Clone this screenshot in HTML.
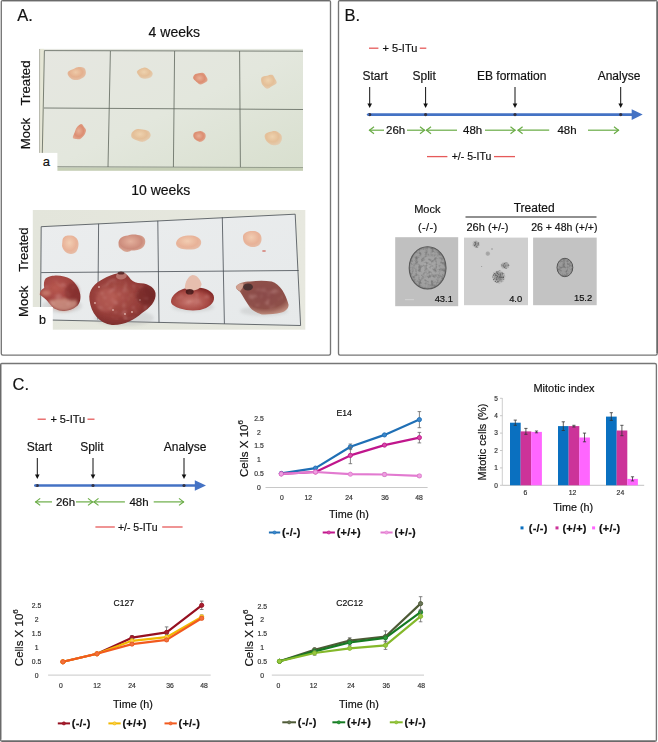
<!DOCTYPE html>
<html><head><meta charset="utf-8"><style>
html,body{margin:0;padding:0;background:#fff;}
body{width:658px;height:742px;overflow:hidden;}
svg{display:block;font-family:"Liberation Sans", sans-serif;filter:blur(0.35px);}
text{stroke-width:0.18px;}
</style></head><body>
<svg width="658" height="742" viewBox="0 0 658 742">
<path d="M2.8,0.6 L329.0,0.6 Q330.5,0.6 330.5,2.1 L330.5,353.6 Q330.5,355.1 329.0,355.1 L2.8,355.1 Q1.3,355.1 1.3,353.6 L1.3,2.1 Q1.3,0.6 2.8,0.6 Z" fill="none" stroke="#767676" stroke-width="1.35"/>
<path d="M340.0,0.6 L655.7,0.6 Q657.2,0.6 657.2,2.1 L657.2,353.6 Q657.2,355.1 655.7,355.1 L340.0,355.1 Q338.5,355.1 338.5,353.6 L338.5,2.1 Q338.5,0.6 340.0,0.6 Z" fill="none" stroke="#767676" stroke-width="1.35"/>
<path d="M2.1,363.5 L654.9,363.5 Q656.4,363.5 656.4,365.0 L656.4,739.7 Q656.4,741.2 654.9,741.2 L2.1,741.2 Q0.6,741.2 0.6,739.7 L0.6,365.0 Q0.6,363.5 2.1,363.5 Z" fill="none" stroke="#767676" stroke-width="1.35"/>
<line x1="657.2" y1="2" x2="657.2" y2="353" stroke="#6a6a6a" stroke-width="1.5" />
<line x1="2" y1="741.3" x2="655" y2="741.3" stroke="#6a6a6a" stroke-width="1.5" />
<line x1="0.6" y1="365" x2="0.6" y2="739.5" stroke="#6a6a6a" stroke-width="1.4" />
<line x1="3" y1="0.6" x2="329" y2="0.6" stroke="#6a6a6a" stroke-width="1.4" />
<line x1="340" y1="0.6" x2="655.5" y2="0.6" stroke="#6a6a6a" stroke-width="1.4" />
<text x="17.2" y="20.6" font-size="16.5" text-anchor="start" fill="#111" stroke="#111" font-weight="normal" >A.</text>
<text x="344.6" y="20.6" font-size="16.5" text-anchor="start" fill="#111" stroke="#111" font-weight="normal" >B.</text>
<text x="12.5" y="390.2" font-size="16.5" text-anchor="start" fill="#111" stroke="#111" font-weight="normal" >C.</text>
<line x1="369" y1="48.2" x2="378.4" y2="48.2" stroke="#e65a5a" stroke-width="1.3" />
<text x="382.6" y="51.900000000000006" font-size="11" text-anchor="start" fill="#111" stroke="#111" font-weight="normal" >+ 5-ITu</text>
<line x1="419.8" y1="48.2" x2="426.3" y2="48.2" stroke="#e65a5a" stroke-width="1.3" />
<text x="362.4" y="80.2" font-size="12" text-anchor="start" fill="#111" stroke="#111" font-weight="normal" >Start</text>
<text x="412.5" y="80.2" font-size="12" text-anchor="start" fill="#111" stroke="#111" font-weight="normal" >Split</text>
<text x="477" y="80.2" font-size="12" text-anchor="start" fill="#111" stroke="#111" font-weight="normal" >EB formation</text>
<text x="597.7" y="80.2" font-size="12" text-anchor="start" fill="#111" stroke="#111" font-weight="normal" >Analyse</text>
<line x1="369.7" y1="87" x2="369.7" y2="104" stroke="#111" stroke-width="1" />
<path d="M367.4,103.5 L372.0,103.5 L369.7,108 Z" fill="#111"/>
<line x1="425.6" y1="87" x2="425.6" y2="104" stroke="#111" stroke-width="1" />
<path d="M423.3,103.5 L427.90000000000003,103.5 L425.6,108 Z" fill="#111"/>
<line x1="515" y1="87" x2="515" y2="104" stroke="#111" stroke-width="1" />
<path d="M512.7,103.5 L517.3,103.5 L515,108 Z" fill="#111"/>
<line x1="620.7" y1="87" x2="620.7" y2="104" stroke="#111" stroke-width="1" />
<path d="M618.4000000000001,103.5 L623.0,103.5 L620.7,108 Z" fill="#111"/>
<line x1="368" y1="114.6" x2="632.7" y2="114.6" stroke="#4472c4" stroke-width="2.6" />
<path d="M631.7,109.3 L642.7,114.6 L631.7,119.89999999999999 Z" fill="#4472c4"/>
<circle cx="369.7" cy="114.6" r="1.6" fill="#334"/>
<circle cx="425.6" cy="114.6" r="1.6" fill="#334"/>
<circle cx="515" cy="114.6" r="1.6" fill="#334"/>
<circle cx="620.7" cy="114.6" r="1.6" fill="#334"/>
<circle cx="368" cy="114.6" r="1.2" fill="#4472c4"/>
<line x1="369" y1="130.2" x2="384" y2="130.2" stroke="#6aac46" stroke-width="1.2" />
<path d="M374,126.69999999999999 L369.5,130.2 L374,133.7" fill="none" stroke="#6aac46" stroke-width="1.2"/>
<text x="386" y="134.2" font-size="11.5" text-anchor="start" fill="#111" stroke="#111" font-weight="normal" >26h</text>
<line x1="407" y1="130.2" x2="425" y2="130.2" stroke="#6aac46" stroke-width="1.2" />
<path d="M420,126.69999999999999 L424.5,130.2 L420,133.7" fill="none" stroke="#6aac46" stroke-width="1.2"/>
<line x1="426" y1="130.2" x2="457" y2="130.2" stroke="#6aac46" stroke-width="1.2" />
<path d="M431,126.69999999999999 L426.5,130.2 L431,133.7" fill="none" stroke="#6aac46" stroke-width="1.2"/>
<text x="463" y="134.2" font-size="11.5" text-anchor="start" fill="#111" stroke="#111" font-weight="normal" >48h</text>
<line x1="485" y1="130.2" x2="515.5" y2="130.2" stroke="#6aac46" stroke-width="1.2" />
<path d="M510.5,126.69999999999999 L515.0,130.2 L510.5,133.7" fill="none" stroke="#6aac46" stroke-width="1.2"/>
<line x1="517.6" y1="130.2" x2="549.2" y2="130.2" stroke="#6aac46" stroke-width="1.2" />
<path d="M522.6,126.69999999999999 L518.1,130.2 L522.6,133.7" fill="none" stroke="#6aac46" stroke-width="1.2"/>
<text x="557.4" y="134.2" font-size="11.5" text-anchor="start" fill="#111" stroke="#111" font-weight="normal" >48h</text>
<line x1="588" y1="130.2" x2="619" y2="130.2" stroke="#6aac46" stroke-width="1.2" />
<path d="M614,126.69999999999999 L618.5,130.2 L614,133.7" fill="none" stroke="#6aac46" stroke-width="1.2"/>
<line x1="427" y1="156.6" x2="447.4" y2="156.6" stroke="#e65a5a" stroke-width="1.3" />
<text x="451.7" y="160.2" font-size="10.5" text-anchor="start" fill="#111" stroke="#111" font-weight="normal" >+/- 5-ITu</text>
<line x1="494" y1="156.6" x2="515" y2="156.6" stroke="#e65a5a" stroke-width="1.3" />
<line x1="37.6" y1="419.2" x2="45.8" y2="419.2" stroke="#e65a5a" stroke-width="1.3" />
<text x="50.4" y="422.9" font-size="11" text-anchor="start" fill="#111" stroke="#111" font-weight="normal" >+ 5-ITu</text>
<line x1="87.5" y1="419.2" x2="94.5" y2="419.2" stroke="#e65a5a" stroke-width="1.3" />
<text x="26.7" y="450.9" font-size="12" text-anchor="start" fill="#111" stroke="#111" font-weight="normal" >Start</text>
<text x="80.2" y="450.9" font-size="12" text-anchor="start" fill="#111" stroke="#111" font-weight="normal" >Split</text>
<text x="163.8" y="450.9" font-size="12" text-anchor="start" fill="#111" stroke="#111" font-weight="normal" >Analyse</text>
<line x1="37.3" y1="458" x2="37.3" y2="475" stroke="#111" stroke-width="1" />
<path d="M35.0,474.5 L39.599999999999994,474.5 L37.3,479 Z" fill="#111"/>
<line x1="93" y1="458" x2="93" y2="475" stroke="#111" stroke-width="1" />
<path d="M90.7,474.5 L95.3,474.5 L93,479 Z" fill="#111"/>
<line x1="184" y1="458" x2="184" y2="475" stroke="#111" stroke-width="1" />
<path d="M181.7,474.5 L186.3,474.5 L184,479 Z" fill="#111"/>
<line x1="35.2" y1="485.5" x2="195.8" y2="485.5" stroke="#4472c4" stroke-width="2.6" />
<path d="M194.8,480.2 L206,485.5 L194.8,490.8 Z" fill="#4472c4"/>
<circle cx="37.3" cy="485.5" r="1.6" fill="#334"/>
<circle cx="93" cy="485.5" r="1.6" fill="#334"/>
<circle cx="184" cy="485.5" r="1.6" fill="#334"/>
<circle cx="35.2" cy="485.5" r="1.2" fill="#4472c4"/>
<line x1="35.2" y1="501.9" x2="52" y2="501.9" stroke="#6aac46" stroke-width="1.2" />
<path d="M40.2,498.4 L35.7,501.9 L40.2,505.4" fill="none" stroke="#6aac46" stroke-width="1.2"/>
<text x="55.9" y="505.9" font-size="11.5" text-anchor="start" fill="#111" stroke="#111" font-weight="normal" >26h</text>
<line x1="76" y1="501.9" x2="93" y2="501.9" stroke="#6aac46" stroke-width="1.2" />
<path d="M88,498.4 L92.5,501.9 L88,505.4" fill="none" stroke="#6aac46" stroke-width="1.2"/>
<line x1="93.5" y1="501.9" x2="124.9" y2="501.9" stroke="#6aac46" stroke-width="1.2" />
<path d="M98.5,498.4 L94.0,501.9 L98.5,505.4" fill="none" stroke="#6aac46" stroke-width="1.2"/>
<text x="129.4" y="505.9" font-size="11.5" text-anchor="start" fill="#111" stroke="#111" font-weight="normal" >48h</text>
<line x1="153.7" y1="501.9" x2="184" y2="501.9" stroke="#6aac46" stroke-width="1.2" />
<path d="M179,498.4 L183.5,501.9 L179,505.4" fill="none" stroke="#6aac46" stroke-width="1.2"/>
<line x1="95.4" y1="527" x2="114.8" y2="527" stroke="#e65a5a" stroke-width="1.3" />
<text x="117.9" y="530.6" font-size="10.5" text-anchor="start" fill="#111" stroke="#111" font-weight="normal" >+/- 5-ITu</text>
<line x1="162.2" y1="527" x2="182.6" y2="527" stroke="#e65a5a" stroke-width="1.3" />
<text x="427.3" y="212.9" font-size="11" text-anchor="middle" fill="#111" stroke="#111" font-weight="normal" >Mock</text>
<text x="534.2" y="212.4" font-size="12" text-anchor="middle" fill="#111" stroke="#111" font-weight="normal" >Treated</text>
<line x1="465.5" y1="217" x2="596.5" y2="217" stroke="#222" stroke-width="1.1" />
<text x="427.8" y="231.2" font-size="11" text-anchor="middle" fill="#111" stroke="#111" font-weight="normal" letter-spacing="0.4">(-/-)</text>
<text x="466.5" y="230.7" font-size="11" text-anchor="start" fill="#111" stroke="#111" font-weight="normal" >26h (+/-)</text>
<text x="531.2" y="230.7" font-size="10.5" text-anchor="start" fill="#111" stroke="#111" font-weight="normal" >26 + 48h (+/+)</text>
<defs>
<filter id="blur1" x="-20%" y="-20%" width="140%" height="140%"><feGaussianBlur stdDeviation="0.6"/></filter>
<filter id="blur2" x="-20%" y="-20%" width="140%" height="140%"><feGaussianBlur stdDeviation="1.2"/></filter>
<filter id="blur3" x="-30%" y="-30%" width="160%" height="160%"><feGaussianBlur stdDeviation="2"/></filter>
<radialGradient id="sph1" cx="50%" cy="50%" r="50%"><stop offset="0" stop-color="#a8a8a8"/><stop offset="0.85" stop-color="#9a9a9a"/><stop offset="1" stop-color="#555"/></radialGradient>
</defs>
<defs>
<filter id="speck" x="0" y="0" width="100%" height="100%">
 <feTurbulence type="fractalNoise" baseFrequency="0.32" numOctaves="2" seed="3" result="n"/>
 <feColorMatrix in="n" type="matrix" values="0 0 0 0 0  0 0 0 0 0  0 0 0 0 0  -2.0 0 0 0 1.15" result="a"/>
 <feComposite in="a" in2="SourceGraphic" operator="in" result="c"/>
 <feGaussianBlur in="c" stdDeviation="0.6"/>
</filter>
<filter id="speck2" x="0" y="0" width="100%" height="100%">
 <feTurbulence type="fractalNoise" baseFrequency="0.6" numOctaves="2" seed="7" result="n"/>
 <feColorMatrix in="n" type="matrix" values="0 0 0 0 0  0 0 0 0 0  0 0 0 0 0  -3 0 0 0 1.7" result="a"/>
 <feComposite in="a" in2="SourceGraphic" operator="in" result="c"/>
 <feGaussianBlur in="c" stdDeviation="0.4"/>
</filter>
<radialGradient id="sphA" cx="50%" cy="50%" r="50%"><stop offset="0" stop-color="#a9a9a9"/><stop offset="0.88" stop-color="#9e9e9e"/><stop offset="1" stop-color="#8a8a8a"/></radialGradient>
</defs>
<rect x="395.2" y="237.2" width="63" height="69" fill="#c0c0c0" />
<ellipse cx="427.6" cy="267.9" rx="18.6" ry="21.3" fill="url(#sphA)"/>
<ellipse cx="427.6" cy="267.9" rx="18.2" ry="20.9" fill="#555" filter="url(#speck)" opacity="0.3"/>
<ellipse cx="427.6" cy="267.9" rx="18.4" ry="21.1" fill="none" stroke="#5a5a5a" stroke-width="1.1" filter="url(#blur1)"/>
<line x1="405" y1="299.7" x2="414" y2="299.7" stroke="#d8d8d8" stroke-width="0.8"/>
<rect x="464" y="237.6" width="64" height="67.6" fill="#cfcfcf" />
<defs><radialGradient id="clu"><stop offset="0" stop-color="#8c8c8c"/><stop offset="0.6" stop-color="#9c9c9c"/><stop offset="1" stop-color="#cfcfcf" stop-opacity="0"/></radialGradient></defs>
<g><circle cx="498.7" cy="276.8" r="7.5" fill="url(#clu)"/><ellipse cx="504.9" cy="265.5" rx="5.2" ry="4.2" fill="url(#clu)" opacity="0.8"/><ellipse cx="476" cy="244.3" rx="4.2" ry="4.2" fill="url(#clu)" opacity="0.8"/><ellipse cx="487.8" cy="253.6" rx="3" ry="3" fill="url(#clu)" opacity="0.7"/><circle cx="498.7" cy="276.8" r="6.5" fill="#555" filter="url(#speck2)" opacity="0.45"/><ellipse cx="504.9" cy="265.5" rx="4.6" ry="3.6" fill="#555" filter="url(#speck2)" opacity="0.4"/><ellipse cx="476" cy="244.3" rx="3.6" ry="3.6" fill="#555" filter="url(#speck2)" opacity="0.4"/><circle cx="492" cy="249" r="0.7" fill="#888"/><circle cx="481.6" cy="266.5" r="0.6" fill="#999"/></g>
<rect x="533.1" y="237.6" width="63.6" height="67.6" fill="#c3c3c3" />
<ellipse cx="564.9" cy="267.5" rx="8" ry="9.3" fill="#9a9a9a"/>
<ellipse cx="564.9" cy="267.5" rx="7.8" ry="9.1" fill="#555" filter="url(#speck)" opacity="0.35"/>
<ellipse cx="564.9" cy="267.5" rx="7.9" ry="9.2" fill="none" stroke="#555" stroke-width="1" filter="url(#blur1)"/>
<text x="452.9" y="301.5" font-size="9.4" text-anchor="end" fill="#111" stroke="#111" font-weight="normal" >43.1</text>
<text x="522.2" y="302.2" font-size="9.4" text-anchor="end" fill="#111" stroke="#111" font-weight="normal" >4.0</text>
<text x="592.2" y="300.7" font-size="9.4" text-anchor="end" fill="#111" stroke="#111" font-weight="normal" >15.2</text>
<defs>
<linearGradient id="photoA" x1="0" y1="0" x2="1" y2="1">
 <stop offset="0" stop-color="#e6e7e1"/><stop offset="0.5" stop-color="#e3e7dd"/><stop offset="1" stop-color="#d8dfce"/>
</linearGradient>
<linearGradient id="photoBout" x1="0" y1="0" x2="1" y2="0">
 <stop offset="0" stop-color="#e3e5db"/><stop offset="1" stop-color="#e7e8df"/>
</linearGradient>
<linearGradient id="paperB" x1="0" y1="0" x2="1" y2="1">
 <stop offset="0" stop-color="#ebedee"/><stop offset="1" stop-color="#e6e9ea"/>
</linearGradient>
<radialGradient id="tpale" cx="45%" cy="40%" r="60%"><stop offset="0" stop-color="#eecaa8"/><stop offset="0.6" stop-color="#e4b08e"/><stop offset="1" stop-color="#e4c0a6"/></radialGradient>
<radialGradient id="ttan" cx="45%" cy="40%" r="60%"><stop offset="0" stop-color="#eed2ae"/><stop offset="0.6" stop-color="#e4bf98"/><stop offset="1" stop-color="#e4ccb0"/></radialGradient>
<radialGradient id="tred" cx="45%" cy="45%" r="60%"><stop offset="0" stop-color="#e8b096"/><stop offset="0.6" stop-color="#dc8e72"/><stop offset="1" stop-color="#e2aa92"/></radialGradient>
<radialGradient id="tpink" cx="45%" cy="40%" r="60%"><stop offset="0" stop-color="#f2cdb2"/><stop offset="0.7" stop-color="#e8b298"/><stop offset="1" stop-color="#e6bca6"/></radialGradient>
<radialGradient id="tpink2" cx="45%" cy="40%" r="60%"><stop offset="0" stop-color="#e4b09c"/><stop offset="0.7" stop-color="#cc8c7c"/><stop offset="1" stop-color="#d8a896"/></radialGradient>
<radialGradient id="tdark" cx="40%" cy="35%" r="70%"><stop offset="0" stop-color="#b85850"/><stop offset="0.6" stop-color="#a04440"/><stop offset="1" stop-color="#7c2a2a"/></radialGradient>
<radialGradient id="tdark2" cx="40%" cy="45%" r="65%"><stop offset="0" stop-color="#b0564e"/><stop offset="0.6" stop-color="#943c38"/><stop offset="1" stop-color="#702626"/></radialGradient>
<radialGradient id="tdark3" cx="45%" cy="60%" r="60%"><stop offset="0" stop-color="#c87870"/><stop offset="0.7" stop-color="#a84a44"/><stop offset="1" stop-color="#862c2a"/></radialGradient>
<radialGradient id="tbrown" cx="55%" cy="40%" r="65%"><stop offset="0" stop-color="#8a4a48"/><stop offset="0.65" stop-color="#8e5048"/><stop offset="1" stop-color="#c89888"/></radialGradient>
<filter id="tb" x="-30%" y="-30%" width="160%" height="160%"><feGaussianBlur stdDeviation="0.6"/></filter>
<filter id="tb2" x="-30%" y="-30%" width="160%" height="160%"><feGaussianBlur stdDeviation="0.7"/></filter>
<filter id="tb3" x="-50%" y="-50%" width="200%" height="200%"><feGaussianBlur stdDeviation="1.5"/></filter>
</defs>
<text x="148.6" y="36.8" font-size="14" fill="#111" stroke="#111">4 weeks</text>
<text x="131.2" y="195" font-size="14" fill="#111" stroke="#111">10 weeks</text>
<text transform="translate(30.3,83) rotate(-90)" font-size="13.2" text-anchor="middle" fill="#111" stroke="#111" stroke-width="0.3">Treated</text>
<text transform="translate(30.3,133.6) rotate(-90)" font-size="13.2" text-anchor="middle" fill="#111" stroke="#111" stroke-width="0.3">Mock</text>
<text transform="translate(28,249.7) rotate(-90)" font-size="13" text-anchor="middle" fill="#111" stroke="#111" stroke-width="0.3">Treated</text>
<text transform="translate(27.8,301.4) rotate(-90)" font-size="13" text-anchor="middle" fill="#111" stroke="#111" stroke-width="0.3">Mock</text>
<rect x="39.3" y="48.9" width="263.7" height="121.8" fill="url(#photoA)"/>
<rect x="39.3" y="48.9" width="4.7" height="121.8" fill="#e6e7d6"/>
<line x1="39.6" y1="49" x2="39.6" y2="170" stroke="#a8aa9e" stroke-width="0.8"/>
<line x1="44.4" y1="50.6" x2="303" y2="51.2" stroke="#5e665c" stroke-width="0.8"/>
<line x1="44" y1="108" x2="303" y2="109.5" stroke="#5e665c" stroke-width="0.8"/>
<line x1="42" y1="166.8" x2="303" y2="167.6" stroke="#5e665c" stroke-width="0.8"/>
<line x1="44.4" y1="50.6" x2="42" y2="167" stroke="#5e665c" stroke-width="0.8"/>
<line x1="110.4" y1="51" x2="108" y2="167" stroke="#5e665c" stroke-width="0.8"/>
<line x1="174.6" y1="51" x2="173.4" y2="167" stroke="#5e665c" stroke-width="0.8"/>
<line x1="239.6" y1="51" x2="240.4" y2="167.5" stroke="#5e665c" stroke-width="0.8"/>
<rect x="42" y="167.6" width="261" height="3.1" fill="#c6cfb6"/>
<path d="M85.85,71.97 C85.98,73.39 85.67,75.10 84.63,76.34 C83.58,77.57 81.52,78.81 79.60,79.38 C77.68,79.95 74.91,80.22 73.12,79.75 C71.34,79.28 69.78,77.85 68.89,76.59 C68.00,75.32 67.13,73.36 67.80,72.16 C68.47,70.95 71.26,70.16 72.91,69.33 C74.57,68.51 75.91,67.46 77.73,67.21 C79.56,66.96 82.50,67.01 83.85,67.80 C85.20,68.60 85.72,70.55 85.85,71.97 Z" fill="url(#tpale)" filter="url(#tb)"/>
<path d="M152.71,73.40 C152.85,74.59 151.99,76.35 150.82,77.23 C149.66,78.11 147.37,78.61 145.71,78.69 C144.06,78.77 142.11,78.34 140.89,77.72 C139.67,77.10 139.07,76.00 138.40,74.95 C137.73,73.91 136.51,72.49 136.89,71.46 C137.26,70.43 139.15,69.40 140.64,68.77 C142.13,68.13 144.27,67.42 145.83,67.64 C147.39,67.86 148.84,69.11 149.99,70.07 C151.13,71.03 152.57,72.21 152.71,73.40 Z" fill="url(#ttan)" filter="url(#tb)"/>
<path d="M207.53,80.16 C207.28,81.21 205.93,82.12 204.74,82.84 C203.55,83.55 201.79,84.64 200.39,84.44 C198.98,84.24 197.52,82.65 196.31,81.64 C195.10,80.63 193.41,79.53 193.10,78.37 C192.80,77.21 193.58,75.54 194.49,74.70 C195.40,73.85 197.09,73.55 198.56,73.29 C200.04,73.03 202.08,72.57 203.36,73.11 C204.63,73.65 205.52,75.34 206.21,76.52 C206.91,77.69 207.77,79.10 207.53,80.16 Z" fill="url(#tred)" filter="url(#tb)"/>
<path d="M274.85,78.49 C275.60,79.85 277.17,81.73 276.67,83.01 C276.18,84.30 273.48,85.22 271.90,86.18 C270.32,87.14 268.61,88.81 267.21,88.78 C265.80,88.74 264.43,87.01 263.47,85.96 C262.50,84.91 261.74,83.89 261.42,82.47 C261.09,81.04 260.57,78.54 261.50,77.40 C262.43,76.27 265.24,76.07 267.02,75.64 C268.80,75.21 270.88,74.37 272.19,74.84 C273.49,75.32 274.10,77.13 274.85,78.49 Z" fill="url(#ttan)" filter="url(#tb)"/>
<path d="M84.13,135.33 C83.17,136.78 81.55,138.28 80.29,138.89 C79.02,139.50 77.76,139.21 76.52,139.00 C75.28,138.79 73.14,138.76 72.84,137.63 C72.54,136.50 74.07,133.94 74.72,132.24 C75.38,130.54 75.69,128.79 76.78,127.43 C77.87,126.07 80.06,124.17 81.26,124.10 C82.46,124.03 83.20,125.99 83.99,127.00 C84.79,128.01 85.99,128.79 86.01,130.18 C86.03,131.57 85.08,133.88 84.13,135.33 Z" fill="url(#tred)" filter="url(#tb)"/>
<path d="M150.71,135.20 C150.68,136.60 149.48,138.24 148.19,139.35 C146.89,140.46 144.78,141.69 142.94,141.86 C141.10,142.03 138.99,141.07 137.13,140.38 C135.27,139.68 132.68,138.96 131.79,137.68 C130.89,136.41 130.98,134.12 131.76,132.71 C132.54,131.30 134.65,129.75 136.47,129.20 C138.30,128.65 140.74,129.12 142.72,129.41 C144.71,129.69 147.06,129.96 148.39,130.93 C149.73,131.90 150.74,133.80 150.71,135.20 Z" fill="url(#ttan)" filter="url(#tb)"/>
<path d="M205.61,137.08 C205.39,138.20 204.73,139.40 203.75,140.21 C202.77,141.02 201.06,142.00 199.71,141.94 C198.36,141.88 196.72,140.71 195.66,139.85 C194.60,138.98 193.65,137.84 193.35,136.73 C193.04,135.61 193.15,134.01 193.82,133.14 C194.50,132.28 196.14,131.86 197.41,131.52 C198.69,131.19 200.20,130.81 201.47,131.13 C202.75,131.45 204.37,132.45 205.05,133.44 C205.74,134.44 205.83,135.95 205.61,137.08 Z" fill="url(#tred)" filter="url(#tb)"/>
<path d="M281.84,139.37 C281.61,140.89 280.88,142.69 279.49,143.68 C278.10,144.67 275.39,145.48 273.48,145.32 C271.58,145.16 269.40,143.75 268.04,142.70 C266.68,141.65 265.83,140.36 265.31,139.03 C264.78,137.70 264.22,135.89 264.89,134.73 C265.56,133.58 267.56,132.71 269.33,132.10 C271.11,131.48 273.64,130.65 275.56,131.05 C277.48,131.46 279.80,133.16 280.85,134.55 C281.90,135.93 282.06,137.85 281.84,139.37 Z" fill="url(#ttan)" filter="url(#tb)"/>
<rect x="38" y="152.9" width="19.4" height="19" fill="#fff"/>
<text x="42.8" y="165.8" font-size="13" fill="#111" stroke="#111">a</text>
<rect x="32.8" y="210" width="272.5" height="119.7" fill="url(#photoBout)"/>
<path d="M41.2,226.7 L295.2,214.2 L300.6,325.5 L40.5,319.5 Z" fill="url(#paperB)"/>
<line x1="41.2" y1="226.7" x2="295.2" y2="214.2" stroke="#454b52" stroke-width="0.8"/>
<line x1="295.2" y1="214.2" x2="300.6" y2="325.5" stroke="#454b52" stroke-width="0.8"/>
<line x1="300.6" y1="325.5" x2="40.5" y2="319.8" stroke="#454b52" stroke-width="0.8"/>
<line x1="41.2" y1="226.7" x2="40.5" y2="320" stroke="#454b52" stroke-width="0.8"/>
<line x1="41.2" y1="272.6" x2="298.6" y2="270.5" stroke="#454b52" stroke-width="0.8"/>
<line x1="98.6" y1="223.8" x2="97.8" y2="319.6" stroke="#454b52" stroke-width="0.8"/>
<line x1="157.8" y1="220.8" x2="159" y2="322.5" stroke="#454b52" stroke-width="0.8"/>
<line x1="222.3" y1="217.3" x2="224.4" y2="323.8" stroke="#454b52" stroke-width="0.8"/>
<ellipse cx="62" cy="306" rx="20" ry="7" fill="#a0a0a0" opacity="0.25" filter="url(#tb3)"/>
<ellipse cx="124" cy="318" rx="30" ry="8" fill="#a0a0a0" opacity="0.25" filter="url(#tb3)"/>
<ellipse cx="193" cy="307" rx="21" ry="5" fill="#a0a0a0" opacity="0.25" filter="url(#tb3)"/>
<ellipse cx="264" cy="311" rx="24" ry="5" fill="#a0a0a0" opacity="0.25" filter="url(#tb3)"/>
<path d="M62.5,240 C63,236 67,235 71,235.5 C76,236 79,240 78.5,245 C78,250 76,254 71,254 C66,254 63,250 62,246 Z" fill="url(#tpink)" filter="url(#tb)"/>
<path d="M118.5,244 C118,239 122,236 128,235.5 C131,234 137,234 142,236 C146,238 146,243 144,246 C141,250 135,251 131,250.5 C128,253 124,252 121,249 C119,248 118.5,246 118.5,244 Z" fill="url(#tpink2)" filter="url(#tb)"/>
<path d="M176,244 C176,239 181,236 188,235.5 C194,235 200,237 201,241 C202,245 199,249 192,249.5 C185,250 177,249 176,244 Z" fill="url(#tpink)" filter="url(#tb)"/>
<path d="M243,236 C244,232 249,230.5 254,231 C259,231.5 262,235 261.5,240 C261,245 257,247.5 252,247 C247,246.5 243,243 243,238 Z" fill="url(#tpink)" filter="url(#tb)"/>
<ellipse cx="264" cy="251" rx="2" ry="1" fill="#d89088" filter="url(#tb)"/>
<path d="M45.8,278.2 C49,276 52,275.7 54,275.7 C60,275.2 66,276.5 70.5,279 C76,283 79.5,289 80.3,294.6 C81,300 79.5,304 77,306.1 C73,309.5 68,311 64.7,311 C60,311 55,309.5 52.4,307 C49,303 46,299 39.7,294.6 C40,291 42,289 44.2,288 C43.5,284 44,280 45.8,278.2 Z" fill="url(#tdark)" filter="url(#tb2)"/>
<path d="M49,301 C56,298 66,298 74,299 C77,300 78,303 77,306 C73,309.5 68,311 64.7,311 C60,311 55,309.5 52.4,307 C51,305 49.5,303 49,301 Z" fill="#d09888" opacity="0.8" filter="url(#tb3)"/>
<ellipse cx="46" cy="293" rx="5" ry="3" fill="#d08878" opacity="0.7" filter="url(#tb3)"/>
<ellipse cx="72" cy="292" rx="7" ry="9" fill="#7a2828" opacity="0.55" filter="url(#tb3)"/>
<path d="M89.5,300 C88,290 95,283 103,279 C108,276 113,274.5 117,273.5 C121,272 126,273 129,277 C131,280 134,282.5 138,283 C146,283 154,286 155.5,293 C156.5,301 150,308 142,313 C134,320 124,325.5 112,325 C99,323.5 91,313 89.5,300 Z" fill="url(#tdark2)" filter="url(#tb2)"/>
<path d="M116,276 C117,272 122,271.5 126,273.5 C128,276 126,279 121,279.5 C118,279.5 116,278 116,276 Z" fill="#c08078" opacity="0.8" filter="url(#tb)"/>
<ellipse cx="121" cy="273" rx="3.5" ry="1.6" fill="#4a1c1c" opacity="0.8" filter="url(#tb)"/>
<circle cx="95" cy="303" r="0.9" fill="#f0d0c8" opacity="0.8"/>
<circle cx="113" cy="310" r="0.9" fill="#f0d0c8" opacity="0.8"/>
<circle cx="125" cy="314" r="0.9" fill="#f0d0c8" opacity="0.8"/>
<circle cx="132" cy="312" r="0.9" fill="#f0d0c8" opacity="0.8"/>
<circle cx="99" cy="287" r="0.9" fill="#f0d0c8" opacity="0.8"/>
<circle cx="140" cy="300" r="0.9" fill="#f0d0c8" opacity="0.8"/>
<ellipse cx="145" cy="296" rx="9" ry="9" fill="#6a2424" opacity="0.55" filter="url(#tb3)"/>
<ellipse cx="106" cy="300" rx="10" ry="12" fill="#c06860" opacity="0.45" filter="url(#tb3)"/>
<path d="M171,301.6 C171,296 177,291 183,289 C186,288 190,287.5 193,288 C198,287.5 204.5,287.8 208,290 C212,292 214,295 214,297.6 C214.5,303 209,308 200,310 C193,311 186,310.5 180,308.5 C174,306.5 171,304.5 171,301.6 Z" fill="url(#tdark3)" filter="url(#tb2)"/>
<path d="M184.8,288 C185,282 188,276 192.7,275 C197,275 200,279 201.6,284 C201,288 198,290 193,290.5 C189,290.5 186,290 184.8,288 Z" fill="#e6beae" filter="url(#tb)"/>
<ellipse cx="189.7" cy="291.7" rx="4" ry="2.8" fill="#401818" opacity="0.85" filter="url(#tb)"/>
<path d="M235.8,286.8 C238,283 244,281.4 250,281.4 C258,280.5 265,280.5 271.7,281.4 C280,284 286,294 288.5,304.6 C289,308 286,311.5 281.6,312.5 C274,314.5 268,314.5 261.8,314.4 C256,313 252,310 250,307.5 C246,302 243,296 240,291.7 C237.5,290 235.8,288.5 235.8,286.8 Z" fill="url(#tbrown)" filter="url(#tb2)"/>
<ellipse cx="248" cy="287" rx="5" ry="3.5" fill="#3a2a2a" opacity="0.8" filter="url(#tb2)"/>
<path d="M236,287 C237,284 240,283 243,283.5 C244,286 242,289 240,291 C238,290 236,288.5 236,287 Z" fill="#d0a090" filter="url(#tb)"/>
<defs><filter id="mott" x="0" y="0" width="100%" height="100%"><feTurbulence type="fractalNoise" baseFrequency="0.18" numOctaves="2" seed="11" result="n"/><feColorMatrix in="n" type="matrix" values="0 0 0 0 0.9  0 0 0 0 0.6  0 0 0 0 0.58  -2.2 0 0 0 1.05" result="a"/><feComposite in="a" in2="SourceGraphic" operator="in" result="c"/><feGaussianBlur in="c" stdDeviation="0.9"/></filter></defs>
<ellipse cx="60" cy="293" rx="17" ry="14" fill="#fff" opacity="0.4" filter="url(#mott)"/>
<ellipse cx="122" cy="299" rx="28" ry="21" fill="#fff" opacity="0.4" filter="url(#mott)"/>
<ellipse cx="193" cy="299" rx="17" ry="8" fill="#fff" opacity="0.4" filter="url(#mott)"/>
<ellipse cx="263" cy="298" rx="20" ry="12" fill="#fff" opacity="0.4" filter="url(#mott)"/>
<rect x="31" y="307" width="21.8" height="24" fill="#fff"/>
<text x="39" y="323.6" font-size="12.5" fill="#111" stroke="#111">b</text>
<text x="344.2" y="416.4" font-size="8.6" text-anchor="middle" fill="#111" stroke="#111" >E14</text>
<text x="259" y="489.9" font-size="6.8" text-anchor="middle" fill="#333" stroke="#333" >0</text>
<text x="259" y="476.04999999999995" font-size="6.8" text-anchor="middle" fill="#333" stroke="#333" >0.5</text>
<text x="259" y="462.2" font-size="6.8" text-anchor="middle" fill="#333" stroke="#333" >1</text>
<text x="259" y="448.34999999999997" font-size="6.8" text-anchor="middle" fill="#333" stroke="#333" >1.5</text>
<text x="259" y="434.5" font-size="6.8" text-anchor="middle" fill="#333" stroke="#333" >2</text>
<text x="259" y="420.65" font-size="6.8" text-anchor="middle" fill="#333" stroke="#333" >2.5</text>
<line x1="265.5" y1="487.5" x2="427.6" y2="487.5" stroke="#c8c8c8" stroke-width="1"/>
<text x="282" y="500.29999999999995" font-size="6.8" text-anchor="middle" fill="#333" stroke="#333" >0</text>
<text x="308.3" y="500.29999999999995" font-size="6.8" text-anchor="middle" fill="#333" stroke="#333" >12</text>
<text x="349" y="500.29999999999995" font-size="6.8" text-anchor="middle" fill="#333" stroke="#333" >24</text>
<text x="385" y="500.29999999999995" font-size="6.8" text-anchor="middle" fill="#333" stroke="#333" >36</text>
<text x="419" y="500.29999999999995" font-size="6.8" text-anchor="middle" fill="#333" stroke="#333" >48</text>
<path d="M281.3,473.4 L315.5,468.1 L350.4,446.8 L384.5,434.9 L419.4,419.6" fill="none" stroke="#1f6fb5" stroke-width="2.2" stroke-linejoin="round" stroke-linecap="round"/>
<path d="M281.3,473.9 L315.5,472.0 L350.4,455.4 L384.5,445.1 L419.4,437.6" fill="none" stroke="#c0168c" stroke-width="2.2" stroke-linejoin="round" stroke-linecap="round"/>
<path d="M281.3,473.9 L315.5,472.0 L350.4,474.2 L384.5,474.5 L419.4,475.9" fill="none" stroke="#e27ad0" stroke-width="2.2" stroke-linejoin="round" stroke-linecap="round"/>
<path d="M350.4,444.0 L350.4,449.6 M348.59999999999997,444.0 L352.2,444.0 M348.59999999999997,449.6 L352.2,449.6" stroke="#666" stroke-width="0.8" fill="none"/>
<path d="M419.4,411.6 L419.4,427.7 M417.59999999999997,411.6 L421.2,411.6 M417.59999999999997,427.7 L421.2,427.7" stroke="#666" stroke-width="0.8" fill="none"/>
<circle cx="281.3" cy="473.4" r="2.1" fill="#3c88cc" stroke="#1f6fb5" stroke-width="0.9"/>
<circle cx="315.5" cy="468.1" r="2.1" fill="#3c88cc" stroke="#1f6fb5" stroke-width="0.9"/>
<circle cx="350.4" cy="446.8" r="2.1" fill="#3c88cc" stroke="#1f6fb5" stroke-width="0.9"/>
<circle cx="384.5" cy="434.9" r="2.1" fill="#3c88cc" stroke="#1f6fb5" stroke-width="0.9"/>
<circle cx="419.4" cy="419.6" r="2.1" fill="#3c88cc" stroke="#1f6fb5" stroke-width="0.9"/>
<path d="M350.4,447.1 L350.4,463.7 M348.59999999999997,447.1 L352.2,447.1 M348.59999999999997,463.7 L352.2,463.7" stroke="#666" stroke-width="0.8" fill="none"/>
<path d="M419.4,432.4 L419.4,442.9 M417.59999999999997,432.4 L421.2,432.4 M417.59999999999997,442.9 L421.2,442.9" stroke="#666" stroke-width="0.8" fill="none"/>
<circle cx="281.3" cy="473.9" r="2.1" fill="#d84aa8" stroke="#c0168c" stroke-width="0.9"/>
<circle cx="315.5" cy="472.0" r="2.1" fill="#d84aa8" stroke="#c0168c" stroke-width="0.9"/>
<circle cx="350.4" cy="455.4" r="2.1" fill="#d84aa8" stroke="#c0168c" stroke-width="0.9"/>
<circle cx="384.5" cy="445.1" r="2.1" fill="#d84aa8" stroke="#c0168c" stroke-width="0.9"/>
<circle cx="419.4" cy="437.6" r="2.1" fill="#d84aa8" stroke="#c0168c" stroke-width="0.9"/>
<path d="M384.5,472.8 L384.5,476.1 M382.7,472.8 L386.3,472.8 M382.7,476.1 L386.3,476.1" stroke="#666" stroke-width="0.8" fill="none"/>
<path d="M419.4,474.5 L419.4,477.3 M417.59999999999997,474.5 L421.2,474.5 M417.59999999999997,477.3 L421.2,477.3" stroke="#666" stroke-width="0.8" fill="none"/>
<circle cx="281.3" cy="473.9" r="2.1" fill="#eea0e0" stroke="#e27ad0" stroke-width="0.9"/>
<circle cx="315.5" cy="472.0" r="2.1" fill="#eea0e0" stroke="#e27ad0" stroke-width="0.9"/>
<circle cx="350.4" cy="474.2" r="2.1" fill="#eea0e0" stroke="#e27ad0" stroke-width="0.9"/>
<circle cx="384.5" cy="474.5" r="2.1" fill="#eea0e0" stroke="#e27ad0" stroke-width="0.9"/>
<circle cx="419.4" cy="475.9" r="2.1" fill="#eea0e0" stroke="#e27ad0" stroke-width="0.9"/>
<text transform="translate(247.6,448.5) rotate(-90)" font-size="11.5" text-anchor="middle" fill="#111" stroke="#111">Cells X 10<tspan font-size="8" dy="-5">6</tspan></text>
<text x="349" y="518" font-size="10.8" text-anchor="middle" fill="#111" stroke="#111" >Time (h)</text>
<line x1="268.9" y1="532.5" x2="280.2" y2="532.5" stroke="#1f6fb5" stroke-width="2"/>
<circle cx="274.54999999999995" cy="532.5" r="1.6" fill="#3c88cc" stroke="#1f6fb5" stroke-width="0.6"/>
<text x="282.0" y="536.4" font-size="11" text-anchor="start" fill="#111" stroke="#111" font-weight="bold" letter-spacing="0.2">(-/-)</text>
<line x1="322.7" y1="532.5" x2="334.9" y2="532.5" stroke="#c0168c" stroke-width="2"/>
<circle cx="328.79999999999995" cy="532.5" r="1.6" fill="#d84aa8" stroke="#c0168c" stroke-width="0.6"/>
<text x="336.7" y="536.4" font-size="11" text-anchor="start" fill="#111" stroke="#111" font-weight="bold" letter-spacing="0.2">(+/+)</text>
<line x1="380.5" y1="532.5" x2="392.6" y2="532.5" stroke="#e27ad0" stroke-width="2"/>
<circle cx="386.55" cy="532.5" r="1.6" fill="#eea0e0" stroke="#e27ad0" stroke-width="0.6"/>
<text x="394.40000000000003" y="536.4" font-size="11" text-anchor="start" fill="#111" stroke="#111" font-weight="bold" letter-spacing="0.2">(+/-)</text>
<text x="123.7" y="606" font-size="8.6" text-anchor="middle" fill="#111" stroke="#111" >C127</text>
<text x="36.6" y="677.5" font-size="6.8" text-anchor="middle" fill="#333" stroke="#333" >0</text>
<text x="36.6" y="663.65" font-size="6.8" text-anchor="middle" fill="#333" stroke="#333" >0.5</text>
<text x="36.6" y="649.8" font-size="6.8" text-anchor="middle" fill="#333" stroke="#333" >1</text>
<text x="36.6" y="635.95" font-size="6.8" text-anchor="middle" fill="#333" stroke="#333" >1.5</text>
<text x="36.6" y="622.1" font-size="6.8" text-anchor="middle" fill="#333" stroke="#333" >2</text>
<text x="36.6" y="608.25" font-size="6.8" text-anchor="middle" fill="#333" stroke="#333" >2.5</text>
<line x1="48.1" y1="675.1" x2="210.7" y2="675.1" stroke="#c8c8c8" stroke-width="1"/>
<text x="60.9" y="687.6999999999999" font-size="6.8" text-anchor="middle" fill="#333" stroke="#333" >0</text>
<text x="97" y="687.6999999999999" font-size="6.8" text-anchor="middle" fill="#333" stroke="#333" >12</text>
<text x="132" y="687.6999999999999" font-size="6.8" text-anchor="middle" fill="#333" stroke="#333" >24</text>
<text x="170" y="687.6999999999999" font-size="6.8" text-anchor="middle" fill="#333" stroke="#333" >36</text>
<text x="204" y="687.6999999999999" font-size="6.8" text-anchor="middle" fill="#333" stroke="#333" >48</text>
<path d="M62.9,661.8 L97,653.8 L132,637.7 L166.6,632.4 L201.7,605.3" fill="none" stroke="#961020" stroke-width="2.2" stroke-linejoin="round" stroke-linecap="round"/>
<path d="M62.9,661.8 L97,653.8 L132,640.8 L166.6,637.2 L201.7,616.9" fill="none" stroke="#f2b800" stroke-width="2.2" stroke-linejoin="round" stroke-linecap="round"/>
<path d="M62.9,661.8 L97,653.8 L132,644.1 L166.6,639.9 L201.7,618.3" fill="none" stroke="#f25a1e" stroke-width="2.2" stroke-linejoin="round" stroke-linecap="round"/>
<path d="M132,635.5 L132,639.9 M130.2,635.5 L133.8,635.5 M130.2,639.9 L133.8,639.9" stroke="#666" stroke-width="0.8" fill="none"/>
<path d="M166.6,626.9 L166.6,638.0 M164.79999999999998,626.9 L168.4,626.9 M164.79999999999998,638.0 L168.4,638.0" stroke="#666" stroke-width="0.8" fill="none"/>
<path d="M201.7,601.1 L201.7,609.5 M199.89999999999998,601.1 L203.5,601.1 M199.89999999999998,609.5 L203.5,609.5" stroke="#666" stroke-width="0.8" fill="none"/>
<circle cx="62.9" cy="661.8" r="2.1" fill="#a82030" stroke="#961020" stroke-width="0.9"/>
<circle cx="97" cy="653.8" r="2.1" fill="#a82030" stroke="#961020" stroke-width="0.9"/>
<circle cx="132" cy="637.7" r="2.1" fill="#a82030" stroke="#961020" stroke-width="0.9"/>
<circle cx="166.6" cy="632.4" r="2.1" fill="#a82030" stroke="#961020" stroke-width="0.9"/>
<circle cx="201.7" cy="605.3" r="2.1" fill="#a82030" stroke="#961020" stroke-width="0.9"/>
<path d="M132,638.5 L132,643.0 M130.2,638.5 L133.8,638.5 M130.2,643.0 L133.8,643.0" stroke="#666" stroke-width="0.8" fill="none"/>
<path d="M166.6,634.4 L166.6,639.9 M164.79999999999998,634.4 L168.4,634.4 M164.79999999999998,639.9 L168.4,639.9" stroke="#666" stroke-width="0.8" fill="none"/>
<path d="M201.7,615.0 L201.7,618.9 M199.89999999999998,615.0 L203.5,615.0 M199.89999999999998,618.9 L203.5,618.9" stroke="#666" stroke-width="0.8" fill="none"/>
<circle cx="62.9" cy="661.8" r="2.1" fill="#f8d050" stroke="#f2b800" stroke-width="0.9"/>
<circle cx="97" cy="653.8" r="2.1" fill="#f8d050" stroke="#f2b800" stroke-width="0.9"/>
<circle cx="132" cy="640.8" r="2.1" fill="#f8d050" stroke="#f2b800" stroke-width="0.9"/>
<circle cx="166.6" cy="637.2" r="2.1" fill="#f8d050" stroke="#f2b800" stroke-width="0.9"/>
<circle cx="201.7" cy="616.9" r="2.1" fill="#f8d050" stroke="#f2b800" stroke-width="0.9"/>
<path d="M132,642.7 L132,645.5 M130.2,642.7 L133.8,642.7 M130.2,645.5 L133.8,645.5" stroke="#666" stroke-width="0.8" fill="none"/>
<path d="M166.6,638.5 L166.6,641.3 M164.79999999999998,638.5 L168.4,638.5 M164.79999999999998,641.3 L168.4,641.3" stroke="#666" stroke-width="0.8" fill="none"/>
<path d="M201.7,616.9 L201.7,619.7 M199.89999999999998,616.9 L203.5,616.9 M199.89999999999998,619.7 L203.5,619.7" stroke="#666" stroke-width="0.8" fill="none"/>
<circle cx="62.9" cy="661.8" r="2.1" fill="#f07040" stroke="#f25a1e" stroke-width="0.9"/>
<circle cx="97" cy="653.8" r="2.1" fill="#f07040" stroke="#f25a1e" stroke-width="0.9"/>
<circle cx="132" cy="644.1" r="2.1" fill="#f07040" stroke="#f25a1e" stroke-width="0.9"/>
<circle cx="166.6" cy="639.9" r="2.1" fill="#f07040" stroke="#f25a1e" stroke-width="0.9"/>
<circle cx="201.7" cy="618.3" r="2.1" fill="#f07040" stroke="#f25a1e" stroke-width="0.9"/>
<text transform="translate(23,637.7) rotate(-90)" font-size="11.5" text-anchor="middle" fill="#111" stroke="#111">Cells X 10<tspan font-size="8" dy="-5">6</tspan></text>
<text x="133" y="707.5" font-size="10.8" text-anchor="middle" fill="#111" stroke="#111" >Time (h)</text>
<line x1="57.8" y1="723.4" x2="70" y2="723.4" stroke="#961020" stroke-width="2"/>
<circle cx="63.9" cy="723.4" r="1.6" fill="#a82030" stroke="#961020" stroke-width="0.6"/>
<text x="71.8" y="727.3" font-size="11" text-anchor="start" fill="#111" stroke="#111" font-weight="bold" letter-spacing="0.2">(-/-)</text>
<line x1="108.4" y1="723.4" x2="120.7" y2="723.4" stroke="#f2b800" stroke-width="2"/>
<circle cx="114.55000000000001" cy="723.4" r="1.6" fill="#f8d050" stroke="#f2b800" stroke-width="0.6"/>
<text x="122.5" y="727.3" font-size="11" text-anchor="start" fill="#111" stroke="#111" font-weight="bold" letter-spacing="0.2">(+/+)</text>
<line x1="164.5" y1="723.4" x2="176.8" y2="723.4" stroke="#f25a1e" stroke-width="2"/>
<circle cx="170.65" cy="723.4" r="1.6" fill="#f07040" stroke="#f25a1e" stroke-width="0.6"/>
<text x="178.60000000000002" y="727.3" font-size="11" text-anchor="start" fill="#111" stroke="#111" font-weight="bold" letter-spacing="0.2">(+/-)</text>
<text x="349.7" y="606" font-size="8.6" text-anchor="middle" fill="#111" stroke="#111" >C2C12</text>
<text x="262.2" y="677.5" font-size="6.8" text-anchor="middle" fill="#333" stroke="#333" >0</text>
<text x="262.2" y="663.7" font-size="6.8" text-anchor="middle" fill="#333" stroke="#333" >0.5</text>
<text x="262.2" y="649.9" font-size="6.8" text-anchor="middle" fill="#333" stroke="#333" >1</text>
<text x="262.2" y="636.1" font-size="6.8" text-anchor="middle" fill="#333" stroke="#333" >1.5</text>
<text x="262.2" y="622.3" font-size="6.8" text-anchor="middle" fill="#333" stroke="#333" >2</text>
<text x="262.2" y="608.5" font-size="6.8" text-anchor="middle" fill="#333" stroke="#333" >2.5</text>
<line x1="271.8" y1="675.1" x2="424" y2="675.1" stroke="#c8c8c8" stroke-width="1"/>
<text x="278.5" y="688.4" font-size="6.8" text-anchor="middle" fill="#333" stroke="#333" >0</text>
<text x="313.6" y="688.4" font-size="6.8" text-anchor="middle" fill="#333" stroke="#333" >12</text>
<text x="351" y="688.4" font-size="6.8" text-anchor="middle" fill="#333" stroke="#333" >24</text>
<text x="386.2" y="688.4" font-size="6.8" text-anchor="middle" fill="#333" stroke="#333" >36</text>
<text x="421.3" y="688.4" font-size="6.8" text-anchor="middle" fill="#333" stroke="#333" >48</text>
<path d="M279.5,661.3 L314.6,649.7 L349.7,640.6 L385.5,636.5 L420.6,603.6" fill="none" stroke="#4e5a36" stroke-width="2.2" stroke-linejoin="round" stroke-linecap="round"/>
<path d="M279.5,661.3 L314.6,651.4 L349.7,642.5 L385.5,637.8 L420.6,612.2" fill="none" stroke="#157a22" stroke-width="2.2" stroke-linejoin="round" stroke-linecap="round"/>
<path d="M279.5,661.3 L314.6,653.0 L349.7,648.3 L385.5,645.3 L420.6,616.3" fill="none" stroke="#84b82a" stroke-width="2.2" stroke-linejoin="round" stroke-linecap="round"/>
<path d="M314.6,648.3 L314.6,651.1 M312.8,648.3 L316.40000000000003,648.3 M312.8,651.1 L316.40000000000003,651.1" stroke="#666" stroke-width="0.8" fill="none"/>
<path d="M349.7,637.8 L349.7,643.4 M347.9,637.8 L351.5,637.8 M347.9,643.4 L351.5,643.4" stroke="#666" stroke-width="0.8" fill="none"/>
<path d="M385.5,630.9 L385.5,642.0 M383.7,630.9 L387.3,630.9 M383.7,642.0 L387.3,642.0" stroke="#666" stroke-width="0.8" fill="none"/>
<path d="M420.6,596.7 L420.6,610.5 M418.8,596.7 L422.40000000000003,596.7 M418.8,610.5 L422.40000000000003,610.5" stroke="#666" stroke-width="0.8" fill="none"/>
<circle cx="279.5" cy="661.3" r="2.1" fill="#6a7458" stroke="#4e5a36" stroke-width="0.9"/>
<circle cx="314.6" cy="649.7" r="2.1" fill="#6a7458" stroke="#4e5a36" stroke-width="0.9"/>
<circle cx="349.7" cy="640.6" r="2.1" fill="#6a7458" stroke="#4e5a36" stroke-width="0.9"/>
<circle cx="385.5" cy="636.5" r="2.1" fill="#6a7458" stroke="#4e5a36" stroke-width="0.9"/>
<circle cx="420.6" cy="603.6" r="2.1" fill="#6a7458" stroke="#4e5a36" stroke-width="0.9"/>
<path d="M349.7,639.8 L349.7,645.3 M347.9,639.8 L351.5,639.8 M347.9,645.3 L351.5,645.3" stroke="#666" stroke-width="0.8" fill="none"/>
<path d="M420.6,609.4 L420.6,614.9 M418.8,609.4 L422.40000000000003,609.4 M418.8,614.9 L422.40000000000003,614.9" stroke="#666" stroke-width="0.8" fill="none"/>
<circle cx="279.5" cy="661.3" r="2.1" fill="#2a9a3a" stroke="#157a22" stroke-width="0.9"/>
<circle cx="314.6" cy="651.4" r="2.1" fill="#2a9a3a" stroke="#157a22" stroke-width="0.9"/>
<circle cx="349.7" cy="642.5" r="2.1" fill="#2a9a3a" stroke="#157a22" stroke-width="0.9"/>
<circle cx="385.5" cy="637.8" r="2.1" fill="#2a9a3a" stroke="#157a22" stroke-width="0.9"/>
<circle cx="420.6" cy="612.2" r="2.1" fill="#2a9a3a" stroke="#157a22" stroke-width="0.9"/>
<path d="M314.6,650.8 L314.6,655.2 M312.8,650.8 L316.40000000000003,650.8 M312.8,655.2 L316.40000000000003,655.2" stroke="#666" stroke-width="0.8" fill="none"/>
<path d="M385.5,641.2 L385.5,649.4 M383.7,641.2 L387.3,641.2 M383.7,649.4 L387.3,649.4" stroke="#666" stroke-width="0.8" fill="none"/>
<path d="M420.6,610.8 L420.6,621.8 M418.8,610.8 L422.40000000000003,610.8 M418.8,621.8 L422.40000000000003,621.8" stroke="#666" stroke-width="0.8" fill="none"/>
<circle cx="279.5" cy="661.3" r="2.1" fill="#98c840" stroke="#84b82a" stroke-width="0.9"/>
<circle cx="314.6" cy="653.0" r="2.1" fill="#98c840" stroke="#84b82a" stroke-width="0.9"/>
<circle cx="349.7" cy="648.3" r="2.1" fill="#98c840" stroke="#84b82a" stroke-width="0.9"/>
<circle cx="385.5" cy="645.3" r="2.1" fill="#98c840" stroke="#84b82a" stroke-width="0.9"/>
<circle cx="420.6" cy="616.3" r="2.1" fill="#98c840" stroke="#84b82a" stroke-width="0.9"/>
<text transform="translate(253.3,638) rotate(-90)" font-size="11.5" text-anchor="middle" fill="#111" stroke="#111">Cells X 10<tspan font-size="8" dy="-5">6</tspan></text>
<text x="359" y="708" font-size="10.8" text-anchor="middle" fill="#111" stroke="#111" >Time (h)</text>
<line x1="282.3" y1="722.3" x2="296" y2="722.3" stroke="#4e5a36" stroke-width="2"/>
<circle cx="289.15" cy="722.3" r="1.6" fill="#6a7458" stroke="#4e5a36" stroke-width="0.6"/>
<text x="297.8" y="726.1999999999999" font-size="11" text-anchor="start" fill="#111" stroke="#111" font-weight="bold" letter-spacing="0.2">(-/-)</text>
<line x1="332.4" y1="722.3" x2="345.2" y2="722.3" stroke="#157a22" stroke-width="2"/>
<circle cx="338.79999999999995" cy="722.3" r="1.6" fill="#2a9a3a" stroke="#157a22" stroke-width="0.6"/>
<text x="347.0" y="726.1999999999999" font-size="11" text-anchor="start" fill="#111" stroke="#111" font-weight="bold" letter-spacing="0.2">(+/+)</text>
<line x1="389.8" y1="722.3" x2="402.7" y2="722.3" stroke="#84b82a" stroke-width="2"/>
<circle cx="396.25" cy="722.3" r="1.6" fill="#98c840" stroke="#84b82a" stroke-width="0.6"/>
<text x="404.5" y="726.1999999999999" font-size="11" text-anchor="start" fill="#111" stroke="#111" font-weight="bold" letter-spacing="0.2">(+/-)</text>
<text x="564" y="392" font-size="11" text-anchor="middle" fill="#111" stroke="#111" >Mitotic index</text>
<line x1="502.3" y1="398" x2="502.3" y2="485.3" stroke="#c8c8c8" stroke-width="0.9"/>
<line x1="502.3" y1="485.3" x2="644.2" y2="485.3" stroke="#bbb" stroke-width="0.9"/>
<line x1="500" y1="485.3" x2="502.3" y2="485.3" stroke="#bbb" stroke-width="0.8"/>
<text x="496" y="487.6" font-size="6.5" text-anchor="middle" fill="#333" stroke="#333" >0</text>
<line x1="500" y1="467.9" x2="502.3" y2="467.9" stroke="#bbb" stroke-width="0.8"/>
<text x="496" y="470.20000000000005" font-size="6.5" text-anchor="middle" fill="#333" stroke="#333" >1</text>
<line x1="500" y1="450.5" x2="502.3" y2="450.5" stroke="#bbb" stroke-width="0.8"/>
<text x="496" y="452.8" font-size="6.5" text-anchor="middle" fill="#333" stroke="#333" >2</text>
<line x1="500" y1="433.1" x2="502.3" y2="433.1" stroke="#bbb" stroke-width="0.8"/>
<text x="496" y="435.40000000000003" font-size="6.5" text-anchor="middle" fill="#333" stroke="#333" >3</text>
<line x1="500" y1="415.7" x2="502.3" y2="415.7" stroke="#bbb" stroke-width="0.8"/>
<text x="496" y="418.00000000000006" font-size="6.5" text-anchor="middle" fill="#333" stroke="#333" >4</text>
<line x1="500" y1="398.3" x2="502.3" y2="398.3" stroke="#bbb" stroke-width="0.8"/>
<text x="496" y="400.6" font-size="6.5" text-anchor="middle" fill="#333" stroke="#333" >5</text>
<rect x="510.0" y="422.7" width="10.7" height="62.6" fill="#0a70c0"/>
<rect x="520.6" y="431.4" width="10.7" height="53.9" fill="#cc3399"/>
<rect x="531.2" y="431.9" width="10.7" height="53.4" fill="#ff66ff"/>
<path d="M515.3,420.1 L515.3,425.3 M513.7,420.1 L516.9,420.1 M513.7,425.3 L516.9,425.3" stroke="#333" stroke-width="0.8" fill="none"/>
<path d="M525.9,428.4 L525.9,434.3 M524.3,428.4 L527.5,428.4 M524.3,434.3 L527.5,434.3" stroke="#333" stroke-width="0.8" fill="none"/>
<path d="M536.5,431.0 L536.5,432.8 M534.9,431.0 L538.1,431.0 M534.9,432.8 L538.1,432.8" stroke="#333" stroke-width="0.8" fill="none"/>
<rect x="558.0" y="426.1" width="10.7" height="59.2" fill="#0a70c0"/>
<rect x="568.6" y="426.1" width="10.7" height="59.2" fill="#cc3399"/>
<rect x="579.2" y="437.5" width="10.7" height="47.8" fill="#ff66ff"/>
<path d="M563.3,421.8 L563.3,430.5 M561.7,421.8 L564.9,421.8 M561.7,430.5 L564.9,430.5" stroke="#333" stroke-width="0.8" fill="none"/>
<path d="M573.9,425.3 L573.9,427.0 M572.3,425.3 L575.5,425.3 M572.3,427.0 L575.5,427.0" stroke="#333" stroke-width="0.8" fill="none"/>
<path d="M584.5,433.1 L584.5,441.8 M582.9,433.1 L586.1,433.1 M582.9,441.8 L586.1,441.8" stroke="#333" stroke-width="0.8" fill="none"/>
<rect x="606.0" y="416.6" width="10.7" height="68.7" fill="#0a70c0"/>
<rect x="616.6" y="430.5" width="10.7" height="54.8" fill="#cc3399"/>
<rect x="627.2" y="478.9" width="10.7" height="6.4" fill="#ff66ff"/>
<path d="M611.3,412.7 L611.3,420.4 M609.7,412.7 L612.9,412.7 M609.7,420.4 L612.9,420.4" stroke="#333" stroke-width="0.8" fill="none"/>
<path d="M621.9,425.3 L621.9,435.7 M620.3,425.3 L623.5,425.3 M620.3,435.7 L623.5,435.7" stroke="#333" stroke-width="0.8" fill="none"/>
<path d="M632.5,476.8 L632.5,480.9 M630.9,476.8 L634.1,476.8 M630.9,480.9 L634.1,480.9" stroke="#333" stroke-width="0.8" fill="none"/>
<text x="525.5" y="495.2" font-size="6.8" text-anchor="middle" fill="#333" stroke="#333" >6</text>
<text x="572.6" y="495.2" font-size="6.8" text-anchor="middle" fill="#333" stroke="#333" >12</text>
<text x="620.4" y="495.2" font-size="6.8" text-anchor="middle" fill="#333" stroke="#333" >24</text>
<text transform="translate(485.8,442) rotate(-90)" font-size="11" text-anchor="middle" fill="#111" stroke="#111">Mitotic cells (%)</text>
<text x="573.2" y="510.5" font-size="10.8" text-anchor="middle" fill="#111" stroke="#111" >Time (h)</text>
<rect x="520.5" y="526.4" width="3" height="3" fill="#0a70c0"/>
<text x="528.8" y="531.8" font-size="11" text-anchor="start" fill="#111" stroke="#111" font-weight="bold" letter-spacing="0.2">(-/-)</text>
<rect x="555.5" y="526.4" width="3" height="3" fill="#cc3399"/>
<text x="562.5" y="531.8" font-size="11" text-anchor="start" fill="#111" stroke="#111" font-weight="bold" letter-spacing="0.2">(+/+)</text>
<rect x="592.1" y="526.4" width="3" height="3" fill="#ff66ff"/>
<text x="599" y="531.8" font-size="11" text-anchor="start" fill="#111" stroke="#111" font-weight="bold" letter-spacing="0.2">(+/-)</text>
</svg>
</body></html>
